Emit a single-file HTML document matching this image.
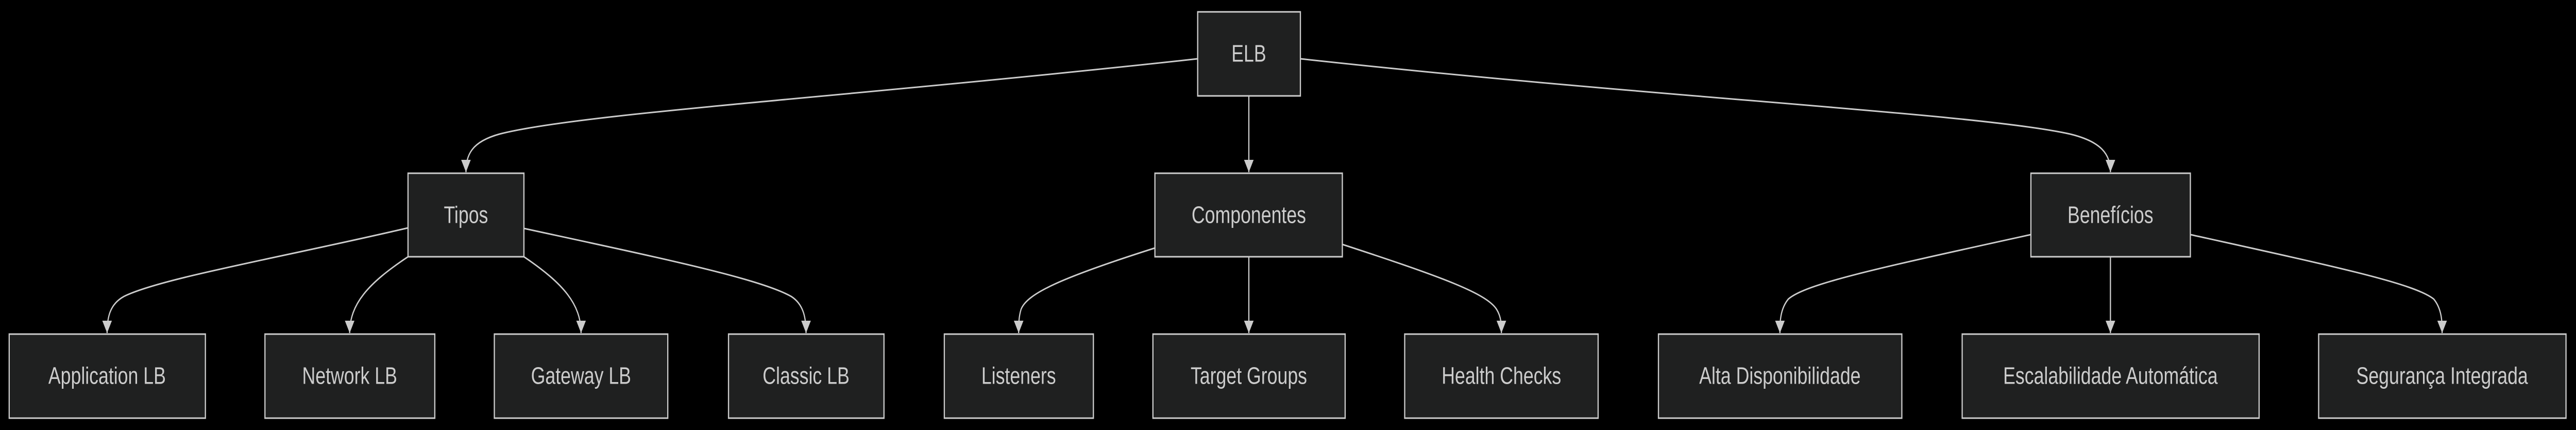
<!DOCTYPE html>
<html><head><meta charset="utf-8"><style>
html,body{margin:0;padding:0;background:#000;width:100%;height:100%;overflow:hidden;}
svg{display:block;width:100vw;height:100vh;}
text{font-family:"Liberation Sans",sans-serif;font-size:46px;fill:#ccc;text-anchor:middle;dominant-baseline:central;}
rect{fill:#1f2020;stroke:#ccc;stroke-width:3;}
path.e{fill:none;stroke:#ccc;stroke-width:3;marker-end:url(#a);}
</style></head><body>
<svg viewBox="0 0 6446 834" preserveAspectRatio="none" xmlns="http://www.w3.org/2000/svg">
<defs><marker id="a" markerUnits="userSpaceOnUse" markerWidth="26" markerHeight="26" refX="24" refY="12" orient="auto"><path d="M0,0 L24,12 L0,24 z" fill="#ccc"/></marker></defs>
<path class="e" d="M2997,114 C2100,190 1450,220 1250,260 C1180,275 1166,300 1166,334"/>
<path class="e" d="M3125,186 L3125,334"/>
<path class="e" d="M3254,114 C4150,190 4950,220 5180,260 C5260,275 5281,300 5281,334"/>
<path class="e" d="M1021,442 C700,500 400,540 310,575 C275,590 268,615 268,646"/>
<path class="e" d="M1021,498 C920,550 875,590 875,646"/>
<path class="e" d="M1311,498 C1410,550 1454,590 1454,646"/>
<path class="e" d="M1311,443 C1650,500 1900,540 1980,575 C2010,590 2017,615 2017,646"/>
<path class="e" d="M2890,481 C2650,540 2570,570 2555,600 C2549,615 2549,630 2549,646"/>
<path class="e" d="M3125,498 L3125,646"/>
<path class="e" d="M3359,474 C3620,540 3720,570 3745,600 C3757,615 3757,630 3757,646"/>
<path class="e" d="M5082,455 C4700,520 4520,550 4475,580 C4454,600 4454,625 4454,646"/>
<path class="e" d="M5281,498 L5281,646"/>
<path class="e" d="M5481,455 C5860,520 6040,550 6090,580 C6111,600 6111,625 6111,646"/>
<rect x="2997" y="23" width="257" height="163"/><text x="3125" y="104">ELB</text>
<rect x="1021" y="336" width="290" height="162"/><text x="1166" y="417">Tipos</text>
<rect x="2890" y="336" width="469" height="162"/><text x="3125" y="417">Componentes</text>
<rect x="5082" y="336" width="399" height="162"/><text x="5281" y="417">Benefícios</text>
<rect x="23" y="648" width="491" height="163"/><text x="268" y="729">Application LB</text>
<rect x="663" y="648" width="425" height="163"/><text x="875" y="729">Network LB</text>
<rect x="1237" y="648" width="434" height="163"/><text x="1454" y="729">Gateway LB</text>
<rect x="1823" y="648" width="389" height="163"/><text x="2017" y="729">Classic LB</text>
<rect x="2363" y="648" width="373" height="163"/><text x="2549" y="729">Listeners</text>
<rect x="2885" y="648" width="481" height="163"/><text x="3125" y="729">Target Groups</text>
<rect x="3515" y="648" width="484" height="163"/><text x="3757" y="729">Health Checks</text>
<rect x="4150" y="648" width="609" height="163"/><text x="4454" y="729">Alta Disponibilidade</text>
<rect x="4910" y="648" width="743" height="163"/><text x="5281" y="729">Escalabilidade Automática</text>
<rect x="5802" y="648" width="619" height="163"/><text x="6111" y="729">Segurança Integrada</text>
</svg>
</body></html>
